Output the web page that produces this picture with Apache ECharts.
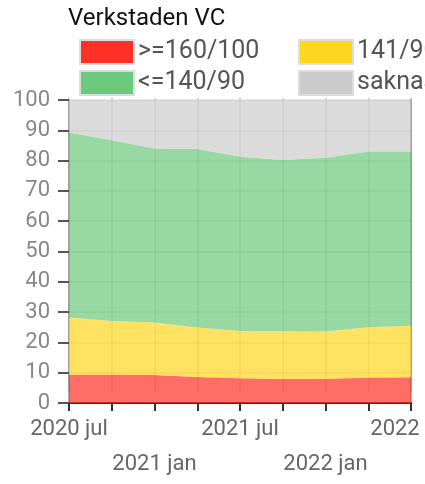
<!DOCTYPE html>
<html>
<head>
<meta charset="utf-8">
<script src="https://cdn.jsdelivr.net/npm/echarts@6/dist/echarts.min.js"></script>
<style>
  html, body { margin: 0; padding: 0; background: #fff; }
  #chart { width: 425px; height: 484px; }
</style>
</head>
<body>
<div id="chart"></div>
<script>
// quarters, jul 2020 .. jul 2022
var quarters = ['2020 jul', '2020 okt', '2021 jan', '2021 apr', '2021 jul', '2021 okt', '2022 jan', '2022 apr', '2022'];
var shownLabels = ['2020 jul', '', '2021 jan', '', '2021 jul', '', '2022 jan', '', '2022'];

var high = [9.3, 9.3, 9.2, 8.6, 8.2, 7.9, 8.0, 8.3, 8.5];
var mid = [18.9, 17.8, 17.4, 16.3, 15.6, 15.8, 15.6, 16.7, 17.0];
var normal = [61.1, 59.6, 57.4, 58.9, 57.5, 56.5, 57.3, 58.0, 57.5];
var missing = [10.7, 13.3, 16.0, 16.2, 18.7, 19.8, 19.1, 17.0, 17.0];

var names = ['>=160/100', '141/90-159/99', '<=140/90', 'saknas'];
var colors = ['#ff3025', '#ffd61e', '#6cc87a', '#cccccc'];

var FONT = 'Roboto';

function areaSeries(i, data) {
  return {
    name: names[i],
    type: 'line',
    stack: 'total',
    data: data,
    symbol: 'none',
    lineStyle: { width: 0 },
    itemStyle: { color: colors[i] },
    areaStyle: { color: colors[i], opacity: 0.7 }
  };
}

var chart = echarts.init(document.getElementById('chart'));

var legendBase = {
  orient: 'vertical',
  top: 39,
  itemWidth: 54,
  itemHeight: 24,
  itemGap: 5,
  icon: 'rect',
  itemStyle: { borderColor: '#dddddd', borderWidth: 2 },
  textStyle: { fontSize: 25, color: '#555', fontFamily: FONT, padding: [0, 0, 0, -1] },
  padding: 0
};

chart.setOption({
  animation: false,
  title: {
    text: 'Verkstaden VC',
    left: 63,
    top: 2,
    textStyle: { fontSize: 24, fontWeight: 'normal', color: '#111', fontFamily: FONT }
  },
  legend: [
    Object.assign({}, legendBase, { left: 79, data: [names[0], names[2]] }),
    Object.assign({}, legendBase, { left: 298, data: [names[1], names[3]] })
  ],
  grid: [
    { left: 69, right: 14, top: 100, bottom: 81 },
    { left: 69, right: 14, top: 97, bottom: 91 }
  ],
  xAxis: [{
    type: 'category',
    data: quarters,
    boundaryGap: false,
    gridIndex: 0,
    axisLine: { lineStyle: { color: '#333', width: 2 } },
    axisTick: { show: true, interval: 0, length: 8, lineStyle: { color: '#333', width: 2 } },
    splitLine: { show: false },
    axisLabel: {
      interval: 0,
      margin: 15,
      fontSize: 22,
      color: '#666',
      fontFamily: FONT,
      formatter: function (v, i) {
        var s = shownLabels[i];
        if (!s) return '';
        if (i === quarters.length - 1) return '{c|' + s + '}';
        if (i % 4 === 2) return '{b|' + s + '}';
        return '{a|' + s + '}';
      },
      rich: {
        a: { fontSize: 22, color: '#666', fontFamily: FONT },
        b: { fontSize: 22, color: '#666', fontFamily: FONT, padding: [35, 0, 0, 0] },
        c: { fontSize: 22, color: '#666', fontFamily: FONT, padding: [0, 32, 0, 0] }
      }
    }
  }, {
    type: 'category',
    data: quarters,
    boundaryGap: false,
    gridIndex: 1,
    axisLine: { show: false },
    axisTick: { show: false },
    axisLabel: { show: false },
    splitLine: { show: true, interval: 0, lineStyle: { color: 'rgba(0,0,0,0.15)', width: 1.5 } }
  }],
  yAxis: [{
    type: 'value',
    min: 0,
    max: 100,
    interval: 10,
    gridIndex: 0,
    axisLine: { show: true, lineStyle: { color: 'rgba(0,0,0,0.3)', width: 2 } },
    axisTick: { show: true, length: 11, lineStyle: { color: '#555', width: 2 } },
    axisLabel: { fontSize: 22, color: '#888', margin: 19, fontFamily: FONT },
    splitLine: { show: true, lineStyle: { color: 'rgba(0,0,0,0.13)', width: 1.5 } }
  }, {
    type: 'value',
    min: 0,
    max: 100,
    gridIndex: 0,
    position: 'right',
    axisLine: { show: true, lineStyle: { color: 'rgba(0,0,0,0.3)', width: 2 } },
    axisTick: { show: false },
    axisLabel: { show: false },
    splitLine: { show: false }
  }, {
    type: 'value',
    gridIndex: 1,
    show: false
  }],
  series: [
    areaSeries(0, high),
    areaSeries(1, mid),
    areaSeries(2, normal),
    areaSeries(3, missing)
  ]
});
</script>
</body>
</html>
